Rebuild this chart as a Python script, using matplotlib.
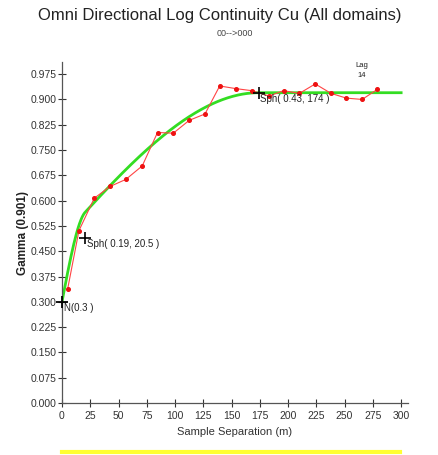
import numpy as np
import matplotlib
matplotlib.use("Agg")
import matplotlib.pyplot as plt

plt.rcParams['font.family'] = ['Liberation Sans', 'DejaVu Sans']

# experimental variogram (lag distance, gamma)
lag_x = [5, 15, 28.5, 42.5, 56.5, 71, 84.5, 98.5, 112.5, 126.5, 139.5,
         154, 168, 183, 196, 210, 224, 238, 251.5, 265.5, 279]
gamma = [0.338, 0.511, 0.607, 0.642, 0.663, 0.703, 0.802, 0.800, 0.838, 0.857, 0.940,
         0.932, 0.926, 0.910, 0.926, 0.918, 0.946, 0.918, 0.904, 0.900, 0.930]

# fitted model parameters (from the chart labels)
nugget = 0.3
sills = [0.19, 0.43]
ranges = [20.5, 174]

yticks = [0.000, 0.075, 0.150, 0.225, 0.300, 0.375, 0.450, 0.525, 0.600,
          0.675, 0.750, 0.825, 0.900, 0.975]
xticks = [0, 25, 50, 75, 100, 125, 150, 175, 200, 225, 250, 275, 300]


def spherical(h, c, a):
    r = np.minimum(h / a, 1.0)
    return c * (1.5 * r - 0.5 * r ** 3)


h = np.linspace(0, 300, 601)
model = nugget + sum(spherical(h, c, a) for c, a in zip(sills, ranges))

fig = plt.figure(figsize=(4.39, 4.55), dpi=100)
ax = fig.add_axes([0.1412, 0.1143, 0.788, 0.7494])

ax.plot(h, model, color='#33dd22', lw=2.0, zorder=2)
ax.plot(lag_x, gamma, color='#ff4444', lw=0.8, marker='o', ms=2.6,
        mfc='#ee1111', mec='#ee1111', zorder=3)

# model structure markers
ax.plot(0, nugget, marker='+', color='black', ms=9, mew=1.3, clip_on=False, zorder=4)
ax.text(1.5, nugget - 0.005, 'N(0.3 )', fontsize=7, va='top', ha='left', color='#222222')
y1 = nugget + sills[0]
ax.plot(ranges[0], y1, marker='+', color='black', ms=8, mew=1.2, zorder=4)
ax.text(ranges[0] + 1.5, y1 - 0.005, 'Sph( 0.19, 20.5 )', fontsize=7, va='top', ha='left',
        color='#222222')
y2 = nugget + sills[0] + sills[1]
ax.plot(ranges[1], y2, marker='+', color='black', ms=8, mew=1.2, zorder=4)
ax.text(ranges[1] + 1.5, y2 - 0.005, 'Sph( 0.43, 174 )', fontsize=7, va='top', ha='left',
        color='#222222')

ax.text(265, 0.985, 'Lag\n14', fontsize=5.5, ha='center', va='center', color='#222222',
        linespacing=1.6)

ax.set_xlim(0, 306)
ax.set_ylim(0, 1.011)
ax.set_xticks(xticks)
ax.set_yticks(yticks)
ax.set_yticklabels(['%.3f' % v for v in yticks])
ax.tick_params(direction='inout', length=6, width=0.8, labelsize=7.5, colors='#333333',
               pad=1)
ax.tick_params(axis='x', pad=3)
for s in ['top', 'right']:
    ax.spines[s].set_visible(False)
for s in ['left', 'bottom']:
    ax.spines[s].set_color('#555555')
    ax.spines[s].set_linewidth(0.9)

ax.set_xlabel('Sample Separation (m)', fontsize=8, color='#333333', labelpad=4)
ax.set_ylabel('Gamma (0.901)', fontsize=8.5, fontweight='bold', color='#222222', labelpad=1)

fig.text(0.5, 0.965, 'Omni Directional Log Continuity Cu (All domains)', fontsize=12,
         ha='center', va='center', color='#222222')
fig.text(0.535, 0.927, '00-->000', fontsize=6.5, ha='center', va='center', color='#444444')

# yellow rule below the chart
fig.add_artist(matplotlib.lines.Line2D([62 / 439, 400 / 439], [1 - 452 / 455] * 2,
                                       color='#ffff33', lw=3))

fig.savefig('out.png', dpi=100)
